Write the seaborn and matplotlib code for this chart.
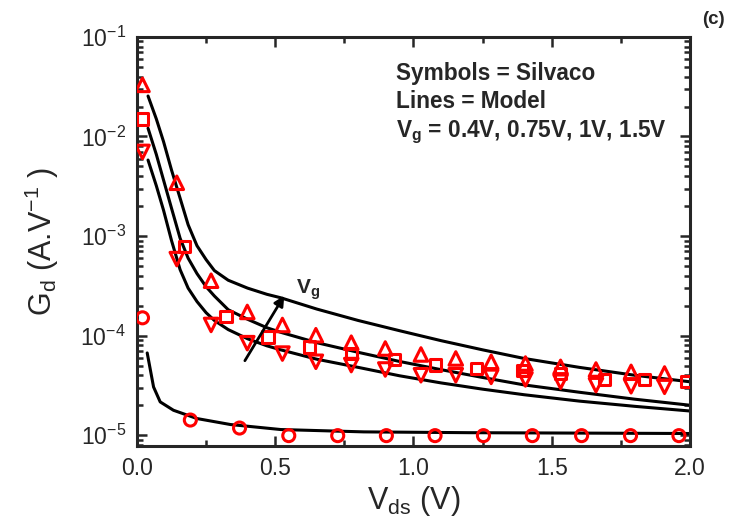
import numpy as np
import pandas as pd
import seaborn as sns
import matplotlib
matplotlib.use("Agg")
import matplotlib.pyplot as plt
from matplotlib.ticker import MultipleLocator, LogLocator, NullFormatter

# Silvaco symbols
vds_up = [0.02, 0.144, 0.268, 0.399, 0.526, 0.647, 0.775, 0.898, 1.027, 1.153,
          1.281, 1.405, 1.532, 1.66, 1.787, 1.908]
gd_up = [3.3e-2, 3.43e-3, 3.56e-4, 1.73e-4, 1.28e-4, 1.01e-4, 8.5e-5, 7.43e-5,
         6.47e-5, 5.9e-5, 5.46e-5, 5.25e-5, 4.86e-5, 4.57e-5, 4.33e-5, 4.17e-5]
gd_down = [7.0e-3, 5.87e-4, 1.28e-4, 8.4e-5, 6.6e-5, 5.46e-5, 5.06e-5, 4.57e-5,
           4.0e-5, 4.0e-5, 3.85e-5, 3.63e-5, 3.44e-5, 3.18e-5, 3.1e-5, 3.06e-5]
vds_sq = [0.02, 0.171, 0.322, 0.474, 0.623, 0.775, 0.932, 1.08, 1.229, 1.393,
          1.532, 1.69, 1.835, 1.987]
gd_sq = [1.5e-2, 7.9e-4, 1.55e-4, 9.7e-5, 7.7e-5, 6.6e-5, 5.77e-5, 5.06e-5,
         4.68e-5, 4.5e-5, 4.17e-5, 3.63e-5, 3.63e-5, 3.44e-5]
vds_ci = [0.02, 0.193, 0.371, 0.549, 0.726, 0.902, 1.078, 1.253, 1.43, 1.608,
          1.785, 1.96]
gd_ci = [1.51e-4, 1.42e-5, 1.18e-5, 9.9e-6, 9.9e-6, 9.9e-6, 9.9e-6, 9.9e-6,
         9.9e-6, 9.9e-6, 9.9e-6, 9.9e-6]

# Model lines
vds_line = [0.04, 0.07, 0.096, 0.125, 0.156, 0.185, 0.217, 0.25, 0.28, 0.33,
            0.4, 0.47, 0.52, 0.65, 0.8, 0.95, 1.1, 1.25, 1.4, 1.6, 1.8, 2.0]
gd_15 = [2.55e-2, 1.5e-2, 8.9e-3, 4.6e-3, 2.4e-3, 1.3e-3, 8.0e-4, 5.8e-4, 4.5e-4,
         3.6e-4, 3.0e-4, 2.6e-4, 2.4e-4, 1.85e-4, 1.42e-4, 1.12e-4, 8.9e-5,
         7.2e-5, 5.9e-5, 4.8e-5, 4.0e-5, 3.44e-5]
gd_10 = [1.21e-2, 6.6e-3, 3.66e-3, 1.9e-3, 9.5e-4, 6.0e-4, 4.2e-4, 3.1e-4, 2.5e-4,
         1.82e-4, 1.46e-4, 1.2e-4, 1.08e-4, 8.5e-5, 6.8e-5, 5.5e-5, 4.55e-5,
         3.8e-5, 3.2e-5, 2.7e-5, 2.3e-5, 2.0e-5]
gd_075 = [5.8e-3, 3.2e-3, 1.82e-3, 9.0e-4, 4.6e-4, 3.0e-4, 2.2e-4, 1.7e-4,
          1.42e-4, 1.15e-4, 9.3e-5, 7.9e-5, 7.2e-5, 5.8e-5, 4.8e-5, 3.95e-5,
          3.35e-5, 2.9e-5, 2.55e-5, 2.2e-5, 1.95e-5, 1.75e-5]
vds_line04 = [0.037, 0.06, 0.084, 0.132, 0.217, 0.338, 0.52, 0.82, 1.2, 1.6, 2.0]
gd_04 = [6.7e-5, 3.05e-5, 2.16e-5, 1.78e-5, 1.47e-5, 1.28e-5, 1.14e-5, 1.08e-5,
         1.06e-5, 1.05e-5, 1.04e-5]

sns.set_style("ticks")
plt.rcParams["font.family"] = ["Liberation Sans", "DejaVu Sans"]
plt.rcParams["mathtext.fontset"] = "custom"
plt.rcParams["mathtext.rm"] = "Liberation Sans"
plt.rcParams["mathtext.it"] = "Liberation Sans:italic"
plt.rcParams["mathtext.bf"] = "Liberation Sans:bold"
plt.rcParams["axes.unicode_minus"] = False

fig = plt.figure(figsize=(7.42, 5.29), dpi=100)
ax = fig.add_axes([0.1846, 0.157, 0.7453, 0.7732])

for gd in [gd_15, gd_10, gd_075]:
    sns.lineplot(x=vds_line, y=gd, ax=ax, color="black", linewidth=2.2,
                 estimator=None, sort=False)
sns.lineplot(x=vds_line04, y=gd_04, ax=ax, color="black", linewidth=2.2,
             estimator=None, sort=False)

mk = dict(ax=ax, facecolor="none", edgecolor="#ff0000", linewidth=2.2, zorder=3)
sns.scatterplot(x=vds_up, y=gd_up, marker="^", s=95, **mk)
sns.scatterplot(x=vds_up, y=gd_down, marker="v", s=95, **mk)
sns.scatterplot(x=vds_sq, y=gd_sq, marker="s", s=65, **mk)
sns.scatterplot(x=vds_ci, y=gd_ci, marker="o", s=75, **mk)

ax.set_yscale("log")
ax.set_xlim(0, 2.0)
ax.set_ylim(7.8e-6, 1e-1)
ax.xaxis.set_major_locator(MultipleLocator(0.5))
ax.xaxis.set_minor_locator(MultipleLocator(0.25))
ax.xaxis.set_major_formatter(matplotlib.ticker.FormatStrFormatter("%.1f"))
ax.yaxis.set_major_locator(LogLocator(base=10, numticks=10))
ax.yaxis.set_minor_locator(LogLocator(base=10, subs=np.arange(2, 10), numticks=20))
ax.yaxis.set_minor_formatter(NullFormatter())

for s in ax.spines.values():
    s.set_linewidth(2.2)
ax.tick_params(which="both", direction="in", top=True, right=True, width=1.8,
               labelsize=16.5, pad=8)
ax.tick_params(which="major", length=7)
ax.tick_params(which="minor", length=4)

ax.set_xlabel("V$_{\\mathrm{ds}}$ (V)", fontsize=22, labelpad=3)
ax.set_ylabel("G$_{\\mathrm{d}}$ (A.V$^{-1}$ )", fontsize=22, labelpad=14)

ax.annotate("", xy=(0.538, 2.67e-4), xytext=(0.385, 5.3e-5),
            arrowprops=dict(arrowstyle="-|>", color="black", lw=2,
                            mutation_scale=15))
ax.text(0.575, 2.61e-4, "V$_{\\mathbf{g}}$", fontsize=15, fontweight="bold",
        ha="left", va="baseline")

fig.text(396 / 742, 1 - 80 / 529, "Symbols = Silvaco", fontsize=16.3,
         fontweight="bold", va="baseline")
fig.text(396 / 742, 1 - 108 / 529, "Lines = Model", fontsize=16.3,
         fontweight="bold", va="baseline")
fig.text(396 / 742, 1 - 137 / 529,
         "V$_{\\mathbf{g}}$ = 0.4V, 0.75V, 1V, 1.5V", fontsize=16.3,
         fontweight="bold", va="baseline")
fig.text(713 / 742, 1 - 20 / 529, "(c)", fontsize=13.5, fontweight="bold",
         ha="center", va="center")

fig.savefig("out.png", dpi=100)
